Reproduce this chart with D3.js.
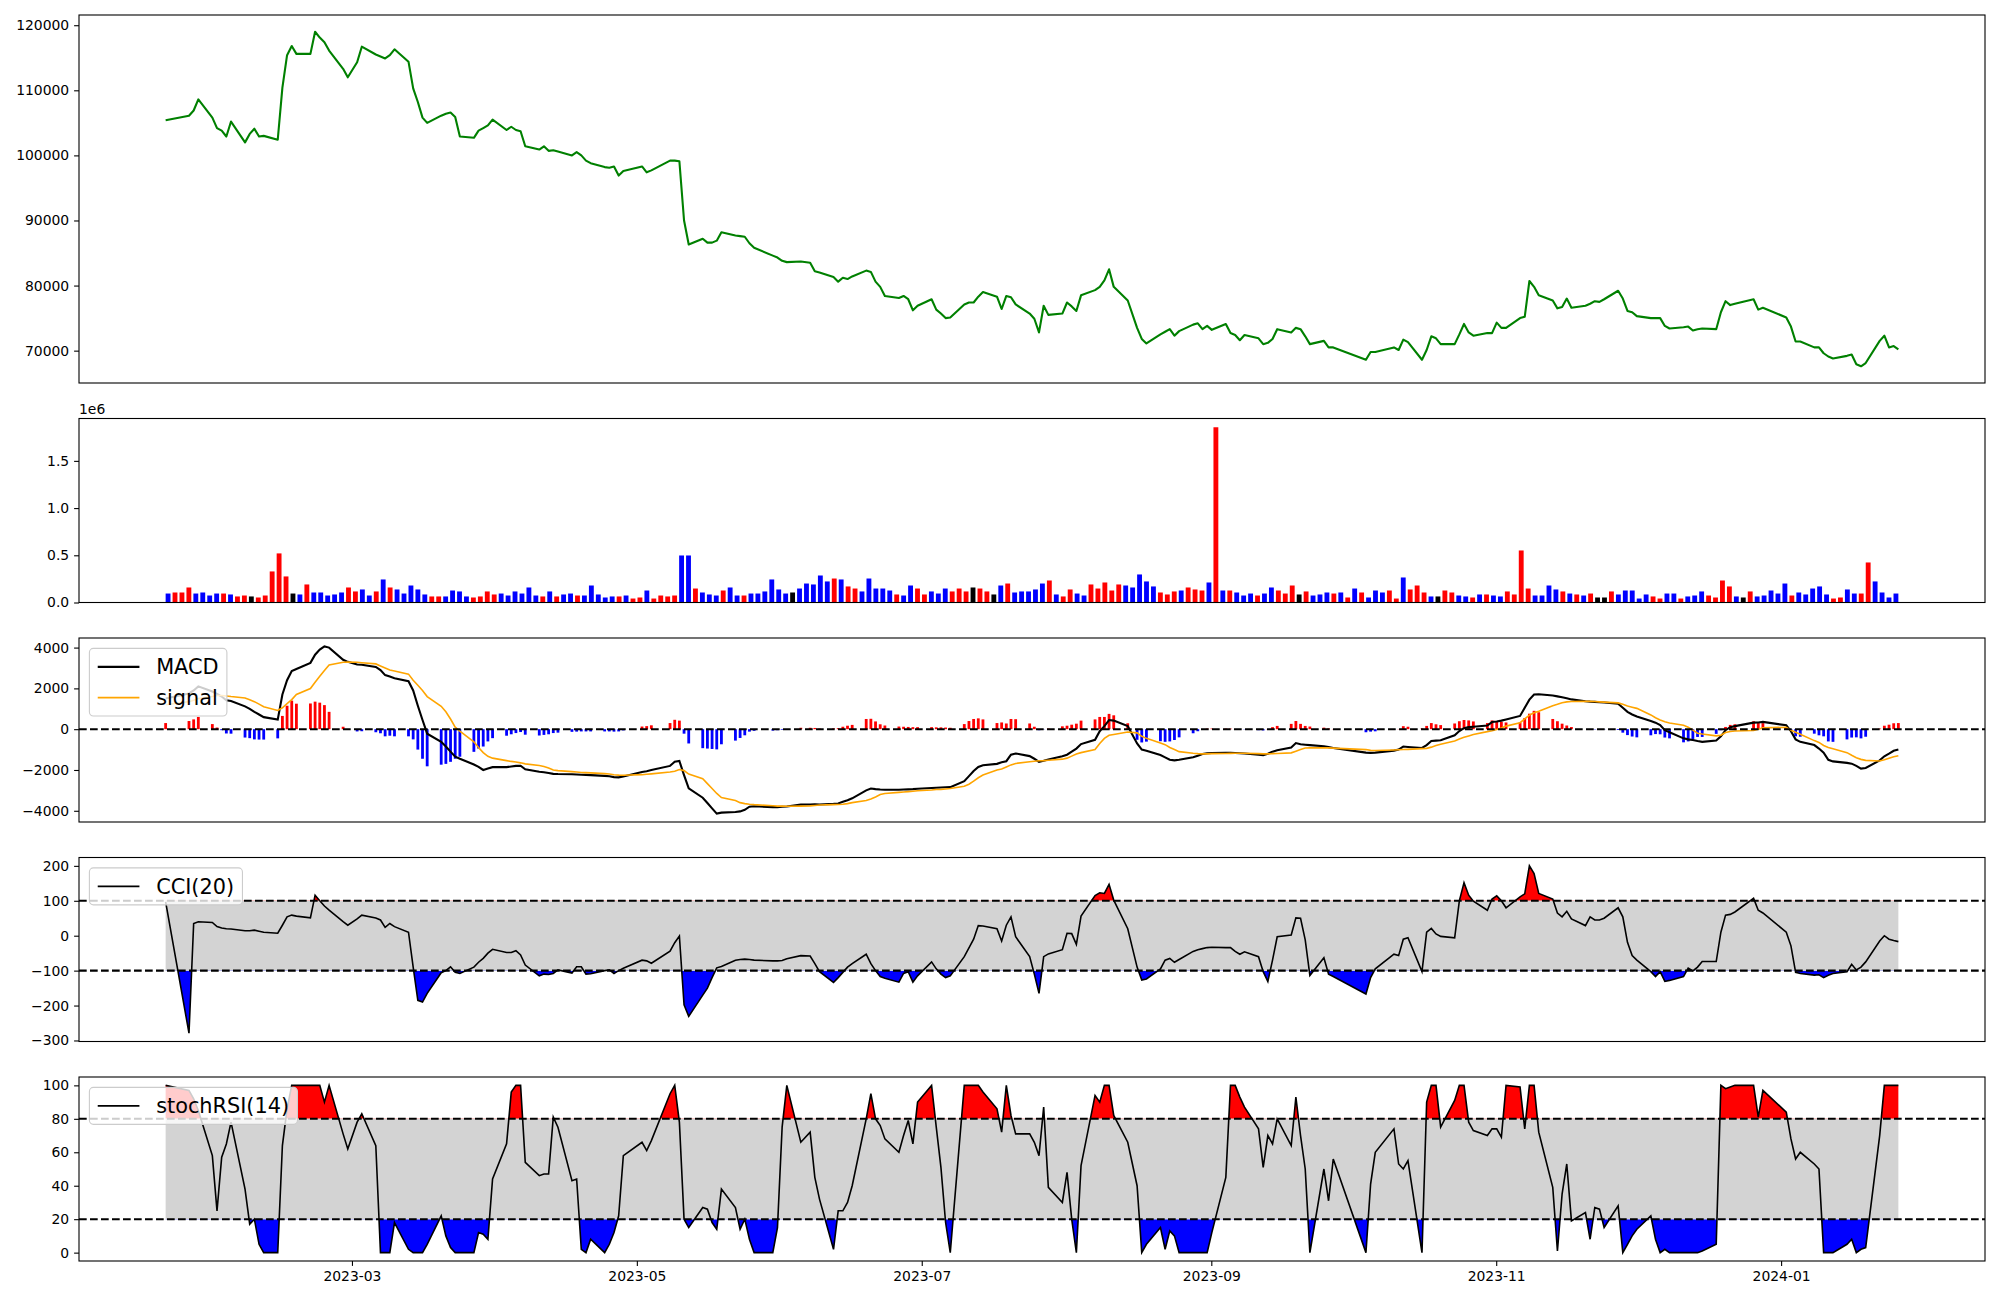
<!DOCTYPE html>
<html><head><meta charset="utf-8">
<script src="https://cdn.jsdelivr.net/npm/d3@7"></script>
<style>body{margin:0;background:#fff}svg{display:block}</style>
</head><body><svg id="c" width="2000" height="1300"></svg>
<script>
// ---------------- DATA ----------------
const startDate = "2023-01-20";
const endDate = "2024-01-26";
const holidays = ["2023-01-23","2023-01-24","2023-03-01","2023-05-01","2023-05-05","2023-05-29","2023-06-06",
  "2023-08-15","2023-09-28","2023-09-29","2023-10-02","2023-10-03","2023-10-09","2023-12-25","2023-12-29","2024-01-01"];

const closePrice = [
105400,106100,106900,108600,105800,104200,103800,102900,105200,102000,
103300,104100,102900,103000,102400,110400,115400,116800,115600,115600,
119000,118100,117400,116100,113300,112000,114300,116700,115500,115200,
114900,115400,116300,114400,110300,108200,105800,105000,106100,106400,
106600,105900,102900,102700,103800,104200,104600,105500,103900,104400,
103900,103700,101400,100900,101400,100700,100800,100600,100000,100500,
100000,99200,98800,98200,98100,98300,96900,97600,98300,97400,
97700,99200,99200,99100,90000,86300,87200,86600,86600,86900,
88200,87700,87600,87500,86500,85800,84600,84300,83800,83600,
83700,83500,82200,82000,81300,80600,81200,81000,81400,82300,
82100,80600,79800,78400,78100,78400,77900,76200,76900,77900,
76300,75700,75000,75100,77100,77400,77400,78300,79000,78300,
76400,78400,78200,77100,75700,74900,72800,76900,75500,75700,
77400,76800,76100,78500,79300,79800,80800,82500,79800,77700,
73500,71800,71100,72500,72900,73300,72300,73000,74000,74200,
73300,73800,73200,74100,72700,72400,71600,72400,71900,71000,
71200,71800,73300,72800,73500,73300,72200,71000,71500,70500,
70500,68600,69800,69800,70500,70100,71700,71300,68600,70100,
72200,71900,71000,71000,72500,74100,72800,72300,72700,72700,
74300,73500,73500,75000,75200,80700,79800,78500,77700,76500,
76700,78000,76600,76900,77200,77600,77500,77900,79200,78000,
76100,75900,75300,75000,75000,75000,73800,73400,73600,73700,
73100,73300,73400,73300,75900,77600,77000,77200,77900,76300,
76600,75100,73700,71400,71400,70500,70500,69600,69100,68800,
69200,69400,67900,67600,68100,71500,72300,70500,70700,70200];

const volume = [
95000,106000,106000,159000,95000,106000,74000,95000,95000,85000,
64000,74000,64000,53000,74000,329000,520000,276000,95000,85000,
191000,106000,106000,74000,85000,106000,159000,117000,138000,74000,
117000,244000,159000,138000,95000,180000,138000,85000,64000,64000,
64000,127000,117000,64000,53000,64000,117000,85000,95000,74000,
117000,95000,159000,74000,64000,117000,64000,85000,95000,74000,
74000,180000,85000,53000,64000,64000,74000,42000,53000,127000,
42000,74000,64000,74000,498000,498000,148000,106000,85000,74000,
127000,159000,74000,74000,95000,95000,117000,244000,138000,95000,
106000,148000,201000,191000,286000,223000,254000,244000,170000,148000,
117000,254000,148000,148000,127000,85000,74000,180000,148000,85000,
117000,95000,148000,117000,148000,117000,159000,148000,117000,85000,
180000,201000,106000,117000,117000,138000,201000,233000,85000,64000,
138000,95000,74000,191000,148000,212000,127000,191000,180000,159000,
297000,223000,170000,106000,85000,117000,127000,159000,138000,127000,
212000,1856000,127000,127000,106000,74000,95000,74000,95000,159000,
127000,95000,180000,85000,117000,74000,85000,106000,95000,106000,
53000,148000,106000,53000,127000,106000,127000,42000,265000,138000,
180000,106000,64000,64000,127000,106000,74000,64000,53000,85000,
85000,74000,64000,117000,85000,551000,148000,74000,74000,180000,
138000,117000,95000,85000,74000,95000,53000,53000,117000,85000,
127000,127000,42000,85000,64000,42000,95000,95000,42000,64000,
74000,117000,74000,53000,233000,170000,64000,53000,117000,64000,
74000,127000,95000,201000,74000,106000,85000,148000,170000,85000,
42000,53000,138000,95000,95000,424000,223000,106000,53000,95000];

// candle direction per day: r = up, b = down, k = unchanged
const volumeDirection =
  "brrrbbbbrbrrkrrrrrkbrbbbbbrrbbrbrbbbbbrrbbbbrrrrbbbbbbrbrbbrbbbbbrbrrbrrrrbbrbbbrbbrbbbbbbkbbbbbrbrrbbbbbrbbrrbbbrrrkrrkbrbbb" +
  "bbrbrrbbrrrrrbbbbbrrrbrrrbrbrbbbrbbrrrkrbbbrbrbrbbbrrbrrrbkrrbbrbrbbrrrrbbbbrbrbrkkrbbbbbrrbbrbbbrrrrbkrbbbbbrbbbbbrrbbrrbbbb";

const macd = [
1500,1750,1900,2100,1850,1730,1600,1420,1380,1120,
1000,850,720,590,470,1700,2400,2850,2950,3250,
3650,3900,4060,4000,3400,3300,3170,3160,3050,2900,
2650,2580,2500,2350,1900,1150,450,-220,-620,-850,
-1100,-1350,-1450,-1730,-1850,-2000,-1930,-1860,-1860,-1830,
-1800,-1790,-1970,-2090,-2110,-2150,-2190,-2200,-2210,-2220,
-2230,-2240,-2250,-2290,-2310,-2350,-2360,-2320,-2100,-2060,
-2000,-1800,-1600,-1560,-2250,-2900,-3360,-3620,-3880,-4140,
-4090,-4060,-4030,-3950,-3800,-3780,-3820,-3820,-3800,-3790,
-3700,-3690,-3680,-3690,-3660,-3640,-3560,-3480,-3390,-3000,
-2910,-2940,-2960,-2970,-2970,-2960,-2950,-2940,-2920,-2880,
-2870,-2860,-2850,-2840,-2550,-2300,-2050,-1850,-1770,-1700,
-1620,-1570,-1250,-1190,-1320,-1450,-1600,-1550,-1490,-1330,
-1250,-1100,-950,-730,-520,-100,150,450,420,150,
-700,-1000,-1060,-1270,-1380,-1500,-1530,-1500,-1380,-1300,
-1220,-1180,-1170,-1160,-1160,-1170,-1180,-1190,-1250,-1270,
-1200,-1100,-1030,-900,-680,-740,-760,-780,-840,-880,
-920,-1150,-1160,-1150,-1050,-1000,-850,-870,-920,-780,
-580,-560,-540,-300,-90,50,100,120,180,350,
380,420,480,650,1050,1450,1700,1710,1650,1610,
1570,1520,1460,1370,1350,1340,1320,1310,1250,1050,
850,720,620,400,320,200,-50,-150,-450,-500,
-530,-580,-620,-560,-350,-50,100,150,320,330,
360,190,-100,-500,-620,-780,-950,-1150,-1500,-1580,
-1650,-1690,-1800,-1930,-1900,-1530,-1330,-1200,-1060,-1000];

const signal = [
1200,1350,1420,1500,1600,1650,1650,1630,1600,1530,
1440,1350,1230,1100,920,1050,1250,1450,1700,1990,
2300,2600,2880,3150,3280,3290,3280,3260,3200,3100,
3000,2900,2850,2700,2400,2150,1900,1600,1120,850,
500,100,-100,-620,-900,-1150,-1330,-1420,-1540,-1580,
-1610,-1650,-1700,-1780,-1830,-1900,-2000,-2030,-2080,-2100,
-2120,-2130,-2140,-2180,-2200,-2230,-2250,-2260,-2230,-2210,
-2190,-2100,-2060,-1980,-2030,-2200,-2430,-2670,-2910,-3150,
-3350,-3500,-3600,-3650,-3680,-3700,-3750,-3770,-3770,-3780,
-3770,-3760,-3740,-3720,-3700,-3690,-3680,-3650,-3600,-3500,
-3420,-3320,-3200,-3150,-3100,-3080,-3060,-3040,-3020,-2980,
-2960,-2950,-2930,-2910,-2800,-2700,-2550,-2380,-2250,-2000,
-1950,-1850,-1750,-1680,-1600,-1570,-1550,-1540,-1520,-1470,
-1420,-1320,-1220,-1150,-1000,-700,-450,-300,-260,-140,
-180,-350,-450,-680,-760,-900,-1000,-1100,-1180,-1200,
-1210,-1210,-1200,-1190,-1185,-1180,-1177,-1180,-1200,-1210,
-1210,-1200,-1190,-1160,-1080,-1000,-920,-910,-915,-916,
-930,-1000,-1040,-1046,-1020,-1010,-997,-990,-955,-940,
-880,-800,-740,-580,-480,-400,-330,-260,-120,-80,
-20,60,150,320,500,690,800,880,1150,1220,
1300,1340,1355,1370,1365,1355,1340,1325,1290,1220,
1140,1080,1020,700,560,450,360,300,194,100,
-50,-200,-240,-330,-300,-160,-110,-90,-67,0,
63,96,-50,-150,-250,-560,-650,-800,-900,-960,
-1150,-1280,-1400,-1480,-1530,-1560,-1500,-1420,-1350,-1300];

const cci = [
97,-279,35,40,38,26,22,20,19,14,
14,16,13,10,7,30,54,59,56,51,
116,100,85,73,40,30,48,59,51,45,
24,35,26,10,-90,-185,-190,-165,-106,-100,
-89,-105,-108,-90,-76,-65,-50,-39,-48,-48,
-43,-55,-84,-115,-110,-111,-108,-98,-107,-89,
-89,-110,-109,-100,-98,-108,-100,-93,-70,-72,
-79,-44,-20,-1,-198,-231,-170,-150,-120,-92,
-88,-70,-68,-67,-68,-70,-72,-72,-71,-66,
-57,-58,-80,-103,-134,-120,-105,-90,-80,-53,
-80,-100,-117,-122,-133,-108,-103,-133,-115,-75,
-95,-110,-120,-115,-60,-35,-10,29,28,20,
-15,30,54,-3,-60,-110,-165,-60,-52,-40,
7,6,-25,56,115,123,121,147,102,20,
-90,-127,-124,-95,-70,-65,-76,-68,-45,-40,
-37,-34,-33,-34,-34,-45,-53,-46,-60,-103,
-131,-70,-3,2,51,50,-12,-114,-63,-110,
-117,-167,-120,-95,-53,-57,-10,-6,-103,10,
21,5,-2,-6,100,152,116,99,73,105,
114,100,80,111,120,200,178,121,105,65,
54,70,48,29,54,45,45,50,80,54,
-19,-57,-70,-103,-117,-103,-131,-128,-117,-93,
-101,-90,-74,-74,10,59,61,68,107,73,
65,10,-29,-105,-108,-113,-112,-120,-113,-108,
-103,-82,-98,-90,-75,-15,0,-10,-14,-17];

const stochRsi = [
100,97,92,85,58,25,57,65,78,38,
17,20,5,0,0,64,86,100,100,100,
100,100,90,100,71,62,78,83,64,0,
0,0,18,2,0,0,0,5,22,10,
3,0,0,0,12,11,8,44,65,96,
100,100,54,46,47,47,81,75,43,44,
2,0,8,0,5,12,22,58,66,61,
67,95,100,78,20,15,27,26,18,14,
38,27,14,20,8,0,0,15,75,100,
66,72,45,32,2,25,25,30,40,80,
95,80,76,68,60,70,79,65,90,100,
75,51,18,0,100,100,100,100,96,86,
72,100,82,71,71,66,58,87,39,30,
48,20,0,52,94,90,100,100,82,66,
40,0,5,15,2,13,10,0,0,0,
0,0,12,45,100,100,93,87,74,51,
70,65,80,64,93,70,50,0,50,31,
56,0,41,60,74,53,50,55,0,90,
100,100,75,91,100,100,78,73,70,74,
74,69,100,99,74,100,100,72,39,1,
35,53,19,24,8,27,26,15,28,0,
5,10,14,22,8,0,2,0,0,0,
0,0,1,5,100,98,99,100,100,81,
97,84,68,56,60,53,50,0,0,0,
5,8,0,2,3,70,100,100,100,100];

const priceTicks = [70000,80000,90000,100000,110000,120000];
const volumeTicks = [0,500000,1000000,1500000];
const macdTicks = [-4000,-2000,0,2000,4000];
const cciTicks = [-300,-200,-100,0,100,200];
const stochTicks = [0,20,40,60,80,100];
const xTickLabels = ["2023-03","2023-05","2023-07","2023-09","2023-11","2024-01"];
const cciBands = [-100,100];
const stochBands = [20,80];

// ---------------- LAYOUT ----------------
const L = 79, R = 1985;
const FONT = "DejaVu Sans";
const P = {
  price:{top:15,bottom:383},
  vol:{top:418.5,bottom:602.5},
  macd:{top:638,bottom:822},
  cci:{top:857.5,bottom:1041.5},
  stoch:{top:1077,bottom:1261}
};
const svg = d3.select("#c");
const RED="#ff0000", BLUE="#0000ff";

// dates: trading days (weekdays minus market holidays)
const hol = new Set(holidays);
const dates = [];
for (let t = Date.parse(startDate+"T00:00:00Z"); t <= Date.parse(endDate+"T00:00:00Z"); t += 864e5) {
  const d = new Date(t), wd = d.getUTCDay();
  if (wd === 0 || wd === 6) continue;
  if (hol.has(d.toISOString().slice(0,10))) continue;
  dates.push(d);
}
const N = Math.min(dates.length, closePrice.length);
const idx = d3.range(N);
const hist = idx.map(i => macd[i] - signal[i]);

const t0 = +dates[0], t1 = +dates[N-1], span = t1 - t0;
const x = d3.scaleUtc().domain([t0 - 0.05*span, t1 + 0.05*span]).range([L, R]);
const dayPx = x(t0 + 864e5) - x(t0);

let clipId = 0;
function panel(p){
  const id = "clip" + (clipId++);
  svg.append("clipPath").attr("id", id).append("rect")
    .attr("x", L).attr("y", p.top).attr("width", R-L).attr("height", p.bottom-p.top);
  const g = svg.append("g");
  const body = g.append("g").attr("clip-path", `url(#${id})`);
  return {g, body};
}
function frame(p){
  svg.append("rect").attr("x",L).attr("y",p.top).attr("width",R-L).attr("height",p.bottom-p.top)
    .attr("fill","none").attr("stroke","#000").attr("stroke-width",1.1);
}
function yAxis(y, ticks, fmt){
  const g = svg.append("g").attr("transform",`translate(${L},0)`)
    .call(d3.axisLeft(y).tickValues(ticks).tickFormat(fmt).tickSize(4.9).tickPadding(4.9));
  g.select(".domain").remove();
  g.attr("font-family", FONT).attr("font-size", 13.9);
  g.selectAll("line").attr("stroke","#000").attr("stroke-width",1.1);
  g.selectAll("text").attr("fill","#000");
}
function padDomain(vals){
  const mn = d3.min(vals), mx = d3.max(vals), pd = (mx-mn)*0.05;
  return [mn-pd, mx+pd];
}
function legend(p, items){
  const fs = 20.83, bp = 8.33, hl = 41.7, htp = 16.7, ls = 10.4, rowH = 20.3;
  const x0 = L + 10.4, y0 = p.top + 10.4;
  const g = svg.append("g");
  const box = g.append("rect");
  let maxW = 0;
  items.forEach((it, k) => {
    const cy = y0 + bp + k*(rowH+ls) + rowH/2;
    g.append("line").attr("x1", x0+bp).attr("x2", x0+bp+hl).attr("y1", cy).attr("y2", cy)
      .attr("stroke", it.color).attr("stroke-width", it.width);
    const t = g.append("text").attr("x", x0+bp+hl+htp).attr("y", cy).attr("dy","0.36em")
      .attr("font-family", FONT).attr("font-size", fs).attr("fill","#000").text(it.label);
    maxW = Math.max(maxW, t.node().getComputedTextLength());
  });
  const w = bp + hl + htp + maxW + bp;
  const h = bp*2 + items.length*rowH + (items.length-1)*ls;
  box.attr("x", x0).attr("y", y0).attr("width", w).attr("height", h).attr("rx", 4)
    .attr("fill", "#fff").attr("fill-opacity", 0.8).attr("stroke", "#cccccc").attr("stroke-width", 1.1);
}
function bandPanel(p, values, bands, ticks, yDom, label){
  const y = d3.scaleLinear().domain(yDom).range([p.bottom, p.top]);
  const {body} = panel(p);
  body.append("path").datum(idx)
    .attr("d", d3.area().x(i=>x(dates[i])).y0(y(bands[0])).y1(y(bands[1])))
    .attr("fill","#d3d3d3");
  const cu = "clip" + (clipId++), cl = "clip" + (clipId++);
  svg.append("clipPath").attr("id",cu).append("rect").attr("x",L).attr("width",R-L)
    .attr("y",p.top).attr("height",y(bands[1])-p.top);
  svg.append("clipPath").attr("id",cl).append("rect").attr("x",L).attr("width",R-L)
    .attr("y",y(bands[0])).attr("height",p.bottom-y(bands[0]));
  body.append("g").attr("clip-path",`url(#${cu})`).append("path").datum(idx)
    .attr("d", d3.area().x(i=>x(dates[i])).y0(y(bands[1])).y1(i=>y(values[i])))
    .attr("fill",RED);
  body.append("g").attr("clip-path",`url(#${cl})`).append("path").datum(idx)
    .attr("d", d3.area().x(i=>x(dates[i])).y0(y(bands[0])).y1(i=>y(values[i])))
    .attr("fill",BLUE);
  body.append("path").datum(idx)
    .attr("d", d3.line().x(i=>x(dates[i])).y(i=>y(values[i])))
    .attr("fill","none").attr("stroke","#000").attr("stroke-width",1.6);
  bands.forEach(b => body.append("line").attr("x1",L).attr("x2",R).attr("y1",y(b)).attr("y2",y(b))
    .attr("stroke","#000").attr("stroke-width",2.1).attr("stroke-dasharray","7.7,3.3"));
  frame(p);
  yAxis(y, ticks, d3.format("d"));
  legend(p, [{label, color:"#000", width:1.6}]);
  return y;
}

// ---------------- PRICE ----------------
{
  const p = P.price;
  const y = d3.scaleLinear().domain(padDomain(closePrice.slice(0,N))).range([p.bottom, p.top]);
  const {body} = panel(p);
  body.append("path").datum(idx)
    .attr("d", d3.line().x(i=>x(dates[i])).y(i=>y(closePrice[i])))
    .attr("fill","none").attr("stroke","#008000").attr("stroke-width",2.1).attr("stroke-linejoin","round");
  frame(p);
  yAxis(y, priceTicks, d3.format("d"));
}

// ---------------- VOLUME ----------------
{
  const p = P.vol;
  const bw = 0.7;
  const xi = d3.scaleLinear().domain([-bw/2 - 0.05*(N-1+bw), N-1+bw/2 + 0.05*(N-1+bw)]).range([L,R]);
  const y = d3.scaleLinear().domain([0, d3.max(volume.slice(0,N))*1.05]).range([p.bottom, p.top]);
  const {body} = panel(p);
  const col = c => c === "r" ? RED : c === "b" ? BLUE : "#000";
  body.selectAll("rect").data(idx).join("rect")
    .attr("x", i => xi(i - bw/2)).attr("width", xi(bw) - xi(0))
    .attr("y", i => y(volume[i])).attr("height", i => y(0) - y(volume[i]))
    .attr("fill", i => col(volumeDirection[i]));
  frame(p);
  yAxis(y, volumeTicks, v => (v/1e6).toFixed(1));
  svg.append("text").attr("x", L).attr("y", p.top - 5).attr("font-family",FONT).attr("font-size",13.9)
    .attr("fill","#000").text("1e6");
}

// ---------------- MACD ----------------
{
  const p = P.macd;
  const y = d3.scaleLinear().domain(padDomain([...macd.slice(0,N), ...signal.slice(0,N), ...hist])).range([p.bottom, p.top]);
  const {body} = panel(p);
  const hw = 0.6*dayPx;
  body.selectAll("rect").data(idx).join("rect")
    .attr("x", i => x(dates[i]) - hw/2).attr("width", hw)
    .attr("y", i => Math.min(y(hist[i]), y(0))).attr("height", i => Math.abs(y(hist[i]) - y(0)))
    .attr("fill", i => hist[i] >= 0 ? RED : BLUE);
  body.append("path").datum(idx)
    .attr("d", d3.line().x(i=>x(dates[i])).y(i=>y(macd[i])))
    .attr("fill","none").attr("stroke","#000").attr("stroke-width",2.1);
  body.append("path").datum(idx)
    .attr("d", d3.line().x(i=>x(dates[i])).y(i=>y(signal[i])))
    .attr("fill","none").attr("stroke","#ffa500").attr("stroke-width",1.6);
  body.append("line").attr("x1",L).attr("x2",R).attr("y1",y(0)).attr("y2",y(0))
    .attr("stroke","#000").attr("stroke-width",2.1).attr("stroke-dasharray","7.7,3.3");
  frame(p);
  yAxis(y, macdTicks, d3.format("d"));
  legend(p, [{label:"MACD", color:"#000", width:2.1},{label:"signal", color:"#ffa500", width:1.6}]);
}

// ---------------- CCI ----------------
bandPanel(P.cci, cci, cciBands, cciTicks, padDomain([...cci.slice(0,N), ...cciBands]), "CCI(20)");

// ---------------- STOCH RSI ----------------
{
  bandPanel(P.stoch, stochRsi, stochBands, stochTicks, padDomain([...stochRsi.slice(0,N), ...stochBands]), "stochRSI(14)");
  const p = P.stoch;
  const g = svg.append("g").attr("font-family",FONT).attr("font-size",13.9);
  xTickLabels.forEach(lab => {
    const xp = x(Date.parse(lab + "-01T00:00:00Z"));
    g.append("line").attr("x1",xp).attr("x2",xp).attr("y1",p.bottom).attr("y2",p.bottom+4.9)
      .attr("stroke","#000").attr("stroke-width",1.1);
    g.append("text").attr("x",xp).attr("y",p.bottom+4.9+4.9+10.6).attr("text-anchor","middle")
      .attr("fill","#000").text(lab);
  });
}
</script></body></html>
